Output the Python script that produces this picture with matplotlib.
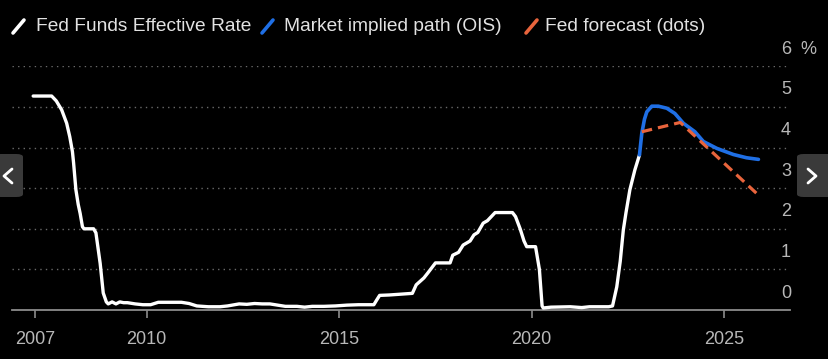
import matplotlib
matplotlib.use('Agg')
import matplotlib.pyplot as plt
from matplotlib.lines import Line2D
from matplotlib.patches import FancyBboxPatch
import matplotlib.transforms as mtransforms

plt.rcParams['font.family'] = ['Liberation Sans Narrow', 'Liberation Sans', 'DejaVu Sans']

# Fed funds effective rate (decimal years, %)
effr_t = [2007.05, 2007.53, 2007.65, 2007.79, 2007.92, 2008.0, 2008.07, 2008.1, 2008.16, 2008.22,
          2008.27, 2008.33, 2008.37, 2008.62, 2008.68, 2008.79, 2008.87, 2008.95, 2009.0, 2009.1,
          2009.2, 2009.3, 2009.4, 2009.5, 2009.7, 2009.9, 2010.1, 2010.3, 2010.6, 2010.9,
          2011.1, 2011.3, 2011.6, 2011.9, 2012.1, 2012.4, 2012.6, 2012.8, 2013.0, 2013.2,
          2013.4, 2013.6, 2013.9, 2014.1, 2014.3, 2014.6, 2014.9, 2015.2, 2015.5, 2015.9,
          2015.97, 2016.05, 2016.3, 2016.6, 2016.9, 2017.0, 2017.2, 2017.3, 2017.5, 2017.88,
          2017.95, 2018.1, 2018.22, 2018.4, 2018.5, 2018.6, 2018.74, 2018.85, 2018.95, 2019.05,
          2019.5, 2019.58, 2019.7, 2019.8, 2019.87, 2020.1, 2020.2, 2020.27, 2020.3, 2020.5,
          2021.0, 2021.3, 2021.5, 2022.0, 2022.1, 2022.21, 2022.3, 2022.38, 2022.45, 2022.55,
          2022.68, 2022.8]
effr_v = [5.27, 5.27, 5.15, 4.93, 4.6, 4.27, 3.9, 3.62, 2.96, 2.6,
          2.38, 2.05, 2.0, 2.0, 1.9, 1.15, 0.42, 0.2, 0.15, 0.2,
          0.15, 0.2, 0.18, 0.18, 0.15, 0.13, 0.13, 0.19, 0.19, 0.19,
          0.16, 0.1, 0.08, 0.08, 0.1, 0.15, 0.14, 0.16, 0.15, 0.15,
          0.12, 0.09, 0.09, 0.07, 0.09, 0.09, 0.1, 0.12, 0.13, 0.13,
          0.24, 0.36, 0.37, 0.39, 0.41, 0.62, 0.79, 0.91, 1.16, 1.16,
          1.35, 1.42, 1.6, 1.7, 1.85, 1.91, 2.14, 2.2, 2.3, 2.4,
          2.4, 2.3, 2.0, 1.7, 1.56, 1.56, 1.0, 0.1, 0.05, 0.07,
          0.08, 0.06, 0.08, 0.08, 0.1, 0.57, 1.2, 1.97, 2.4, 2.96,
          3.45, 3.82]

# Market implied path (OIS)
ois_t = [2022.8, 2022.86, 2022.93, 2022.99, 2023.12, 2023.29, 2023.51, 2023.72, 2023.94,
         2024.24, 2024.46, 2024.81, 2025.24, 2025.58, 2025.89]
ois_v = [3.82, 4.35, 4.7, 4.88, 5.02, 5.02, 4.97, 4.84, 4.6,
         4.39, 4.15, 3.98, 3.83, 3.75, 3.71]

# Fed forecast (dots)
dots_t = [2022.86, 2023.86, 2025.89]
dots_v = [4.39, 4.62, 2.83]

x_ticks = [2007.1, 2010, 2015, 2020, 2025]
x_labels = ['2007', '2010', '2015', '2020', '2025']
y_ticks = [0, 1, 2, 3, 4, 5, 6]

W, H = 829, 359
fig = plt.figure(figsize=(W / 100, H / 100), dpi=100, facecolor='black')
ax = fig.add_axes([12 / W, 49 / H, (790 - 12) / W, (310 - 66.4) / H], facecolor='black')
ax.set_xlim(2006.5, 2026.71)
ax.set_ylim(0, 6)

for v in y_ticks[1:]:
    ax.axhline(v, color='#6a6a6a', lw=1.0, ls=(0, (1, 3)), zorder=1)

ax.plot(effr_t, effr_v, color='white', lw=2.4, solid_capstyle='round', zorder=3, clip_on=False)
ax.plot(ois_t, ois_v, color='#1f6fe5', lw=2.6, solid_capstyle='round', zorder=4)
ax.plot(dots_t, dots_v, color='#e8643c', lw=2.3, dashes=(3.3, 1.9), zorder=5)

for s in ['top', 'right', 'left']:
    ax.spines[s].set_visible(False)
ax.spines['bottom'].set_color('#8c8c8c')
ax.spines['bottom'].set_linewidth(1.3)
ax.set_xticks(x_ticks)
ax.set_xticklabels(x_labels)
ax.tick_params(axis='x', colors='#8c8c8c', length=6, width=1.2, pad=9,
               labelcolor='#b8b8b8', labelsize=13)
ax.set_yticks([])

# y labels sit above their gridlines, at the right edge
trans = mtransforms.blended_transform_factory(ax.transAxes, ax.transData)
off = mtransforms.ScaledTranslation(1 / 100, 17 / 100, fig.dpi_scale_trans)
for v in y_ticks:
    ax.text(1.0, v, str(v), transform=trans + off, ha='right', va='center',
            color='#b8b8b8', fontsize=13)
off2 = mtransforms.ScaledTranslation(10 / 100, 17 / 100, fig.dpi_scale_trans)
ax.text(1.0, 6, '%', transform=trans + off2, ha='left', va='center',
        color='#b8b8b8', fontsize=13)

# legend with slanted line markers
def fx(px):
    return px / W

def fy(py):
    return 1 - py / H

legend = [('Fed Funds Effective Rate', 'white', 13, 36),
          ('Market implied path (OIS)', '#1f6fe5', 262, 284),
          ('Fed forecast (dots)', '#e8643c', 526, 545)]
for label, col, mx, tx in legend:
    fig.add_artist(Line2D([fx(mx), fx(mx + 11)], [fy(33), fy(20)], color=col, lw=2.6,
                          solid_capstyle='round'))
    fig.text(fx(tx), fy(26.5), label, color='#e2e2e2', fontsize=13.8, ha='left', va='center')

# carousel buttons from the screenshot
for x0, w, pts in [(-6, 29, [(12, 169), (4, 176), (12, 183)]),
                   (797, 40, [(808, 169), (816, 176), (808, 183)])]:
    fig.add_artist(FancyBboxPatch((fx(x0), fy(197)), w / W, 43 / H,
                                  boxstyle='round,pad=0,rounding_size=0.008',
                                  transform=fig.transFigure, facecolor='#3a3a3a',
                                  edgecolor='none'))
    fig.add_artist(Line2D([fx(p[0]) for p in pts], [fy(p[1]) for p in pts],
                          color='white', lw=2.0, solid_capstyle='round',
                          solid_joinstyle='round'))

fig.savefig('out.png', dpi=100, facecolor='black')
